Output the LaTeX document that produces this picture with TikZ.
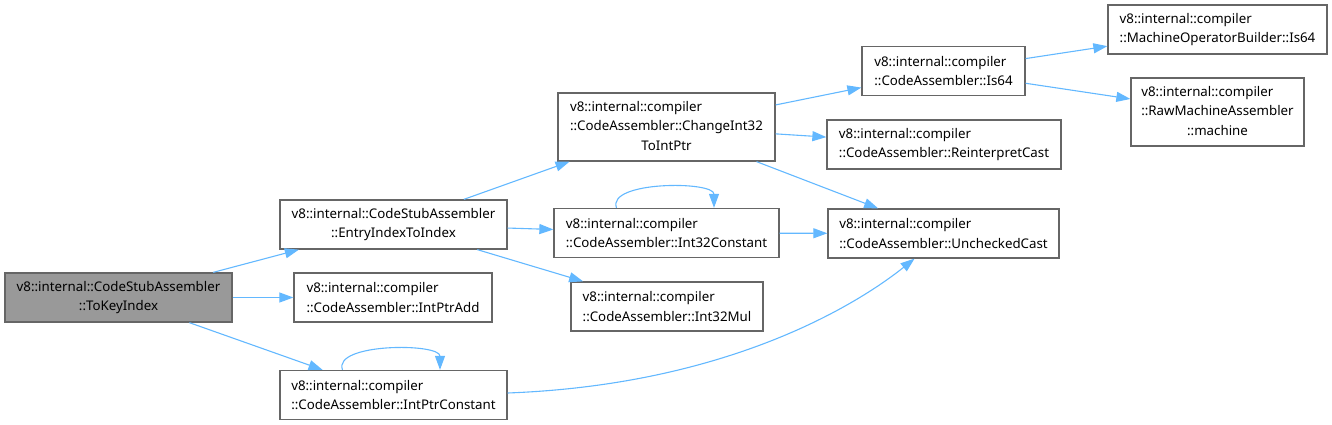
\documentclass[tikz,border=0pt]{standalone}
\usepackage{fontspec}
\setmainfont{Noto Sans}
\usetikzlibrary{arrows.meta}
\usepackage{xcolor}
\definecolor{EdgeBlue}{HTML}{63B8FF}
\definecolor{FrameGray}{HTML}{666666}
\definecolor{FocusGray}{HTML}{999999}

\begin{document}
\begin{tikzpicture}[
  x=1pt, y=-1pt,
  box/.style={rectangle, draw=FrameGray, fill=white, line width=1.3pt,
    font=\fontsize{13.3}{19.3}\selectfont, inner sep=0pt,
    minimum height=49pt, align=left},
  focusbox/.style={box, fill=FocusGray, align=center},
  tallbox/.style={box, minimum height=68pt},
  arr/.style={-{Triangle[length=14pt,width=10pt]}, line width=1.1pt, color=EdgeBlue}
]
  \useasboundingbox (0,0) rectangle (1332,425);

  \node[focusbox, minimum width=227pt] (tokey) at (118.5,297.5)
    {v8::internal::CodeStubAssembler\\::ToKeyIndex};
  \node[box, align=center, minimum width=227pt] (entry) at (393.5,224.5)
    {v8::internal::CodeStubAssembler\\::EntryIndexToIndex};
  \node[box, minimum width=198pt] (ptradd) at (393,297.5)
    {v8::internal::compiler\\::CodeAssembler::IntPtrAdd};
  \node[box, minimum width=227pt] (ptrconst) at (393.5,395)
    {v8::internal::compiler\\::CodeAssembler::IntPtrConstant};
  \node[tallbox, minimum width=217pt] (change) at (666.5,127)
    {\begin{tabular}{@{}l@{}}v8::internal::compiler\\::CodeAssembler::ChangeInt32\\
     \multicolumn{1}{@{}c@{}}{ToIntPtr}\end{tabular}};
  \node[box, minimum width=225pt] (i32const) at (666.5,233)
    {v8::internal::compiler\\::CodeAssembler::Int32Constant};
  \node[box, minimum width=192pt] (i32mul) at (667,306.5)
    {v8::internal::compiler\\::CodeAssembler::Int32Mul};
  \node[box, minimum width=163pt] (is64) at (943.5,71)
    {v8::internal::compiler\\::CodeAssembler::Is64};
  \node[box, minimum width=234pt] (reinterp) at (944,144.5)
    {v8::internal::compiler\\::CodeAssembler::ReinterpretCast};
  \node[box, minimum width=231pt] (unchecked) at (943.5,233.5)
    {v8::internal::compiler\\::CodeAssembler::UncheckedCast};
  \node[box, minimum width=219pt] (mob) at (1217.5,29.5)
    {v8::internal::compiler\\::MachineOperatorBuilder::Is64};
  \node[tallbox, minimum width=173pt] (raw) at (1217.5,112)
    {\begin{tabular}{@{}l@{}}v8::internal::compiler\\::RawMachineAssembler\\
     \multicolumn{1}{@{}c@{}}{::machine}\end{tabular}};

  \draw[arr] (tokey) -- (entry);
  \draw[arr] (tokey) -- (ptradd);
  \draw[arr] (tokey) -- (ptrconst);
  \draw[arr] (entry) -- (change);
  \draw[arr] (entry) -- (i32const);
  \draw[arr] (entry) -- (i32mul);
  \draw[arr] ([xshift=-51pt]ptrconst.north) .. controls +(-10,-27) and +(0,-27)
    .. ([xshift=46.5pt]ptrconst.north);
  \draw[arr] ([yshift=2pt]ptrconst.east) .. controls (720,385) and (850,310)
    .. ([xshift=-29pt]unchecked.south);
  \draw[arr] ([xshift=-50pt]i32const.north) .. controls +(-10,-27) and +(0,-27)
    .. ([xshift=47.5pt]i32const.north);
  \draw[arr] (i32const) -- (unchecked);
  \draw[arr] (change) -- (is64);
  \draw[arr] (change) -- (reinterp);
  \draw[arr] (change) -- (unchecked);
  \draw[arr] (is64) -- (mob);
  \draw[arr] (is64) -- (raw);
\end{tikzpicture}
\end{document}
